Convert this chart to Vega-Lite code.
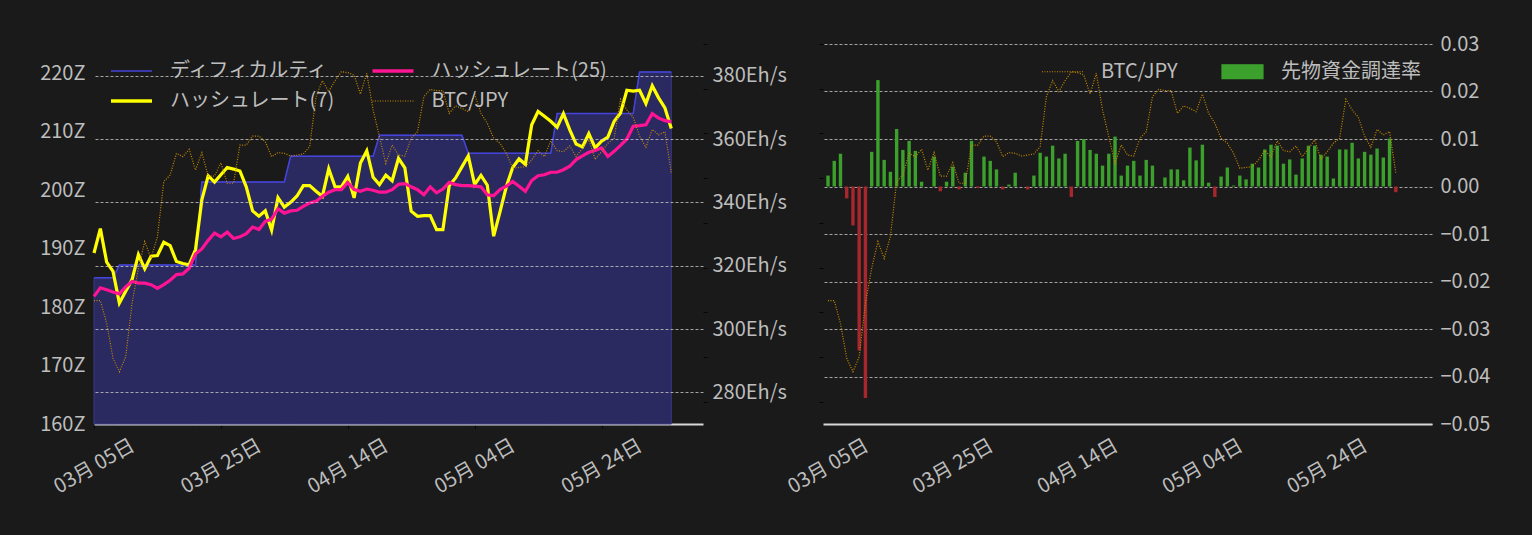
{
  "$schema": "https://vega.github.io/schema/vega-lite/v6.json",
  "background": "#1a1a1a",
  "padding": {"left": 39, "top": 34, "right": 45, "bottom": 45},
  "datasets": {
    "diff": [
      {"date": "2023-03-05", "diff": 185.0},
      {"date": "2023-03-08", "diff": 185.0},
      {"date": "2023-03-09", "diff": 187.2},
      {"date": "2023-03-21", "diff": 187.2},
      {"date": "2023-03-22", "diff": 201.4},
      {"date": "2023-04-04", "diff": 201.4},
      {"date": "2023-04-05", "diff": 205.8},
      {"date": "2023-04-18", "diff": 205.8},
      {"date": "2023-04-19", "diff": 209.4},
      {"date": "2023-05-02", "diff": 209.4},
      {"date": "2023-05-03", "diff": 206.3},
      {"date": "2023-05-16", "diff": 206.3},
      {"date": "2023-05-17", "diff": 213.1},
      {"date": "2023-05-29", "diff": 213.1},
      {"date": "2023-05-30", "diff": 220.2},
      {"date": "2023-06-04", "diff": 220.2}
    ],
    "daily": [
      {"date": "2023-03-05", "hr7": 324.0, "hr25": 310.3, "btc": 3052000, "fr": 0.0023},
      {"date": "2023-03-06", "hr7": 331.7, "hr25": 313.0, "btc": 3052000, "fr": 0.0054},
      {"date": "2023-03-07", "hr7": 321.1, "hr25": 312.4, "btc": 2950000, "fr": 0.0069},
      {"date": "2023-03-08", "hr7": 318.2, "hr25": 311.7, "btc": 2794000, "fr": -0.0025},
      {"date": "2023-03-09", "hr7": 308.2, "hr25": 311.1, "btc": 2734000, "fr": -0.0082},
      {"date": "2023-03-10", "hr7": 311.9, "hr25": 313.3, "btc": 2801000, "fr": -0.0345},
      {"date": "2023-03-11", "hr7": 315.6, "hr25": 315.0, "btc": 3040000, "fr": -0.0445},
      {"date": "2023-03-12", "hr7": 323.5, "hr25": 314.5, "btc": 3197000, "fr": 0.0073},
      {"date": "2023-03-13", "hr7": 319.0, "hr25": 314.5, "btc": 3316000, "fr": 0.0224},
      {"date": "2023-03-14", "hr7": 323.0, "hr25": 314.0, "btc": 3241000, "fr": 0.0056},
      {"date": "2023-03-15", "hr7": 323.2, "hr25": 312.8, "btc": 3338000, "fr": 0.0031},
      {"date": "2023-03-16", "hr7": 327.4, "hr25": 314.0, "btc": 3584000, "fr": 0.0121},
      {"date": "2023-03-17", "hr7": 326.3, "hr25": 315.4, "btc": 3614000, "fr": 0.0077},
      {"date": "2023-03-18", "hr7": 321.3, "hr25": 317.2, "btc": 3711000, "fr": 0.0096},
      {"date": "2023-03-19", "hr7": 320.7, "hr25": 317.4, "btc": 3696000, "fr": 0.0075},
      {"date": "2023-03-20", "hr7": 320.3, "hr25": 319.2, "btc": 3729000, "fr": 0.0010},
      {"date": "2023-03-21", "hr7": 325.1, "hr25": 323.7, "btc": 3636000, "fr": 0.0},
      {"date": "2023-03-22", "hr7": 340.8, "hr25": 325.3, "btc": 3714000, "fr": 0.0063},
      {"date": "2023-03-23", "hr7": 348.4, "hr25": 328.0, "btc": 3609000, "fr": -0.0010},
      {"date": "2023-03-24", "hr7": 346.4, "hr25": 330.3, "btc": 3609000, "fr": 0.0010},
      {"date": "2023-03-25", "hr7": 348.7, "hr25": 329.1, "btc": 3669000, "fr": 0.0042},
      {"date": "2023-03-26", "hr7": 351.0, "hr25": 330.6, "btc": 3577000, "fr": -0.0006},
      {"date": "2023-03-27", "hr7": 350.5, "hr25": 328.6, "btc": 3577000, "fr": 0.0029},
      {"date": "2023-03-28", "hr7": 349.9, "hr25": 329.1, "btc": 3748000, "fr": 0.0096},
      {"date": "2023-03-29", "hr7": 344.9, "hr25": 330.1, "btc": 3748000, "fr": -0.0003},
      {"date": "2023-03-30", "hr7": 337.3, "hr25": 332.2, "btc": 3788000, "fr": 0.0063},
      {"date": "2023-03-31", "hr7": 335.6, "hr25": 331.4, "btc": 3788000, "fr": 0.0054},
      {"date": "2023-04-01", "hr7": 337.3, "hr25": 334.0, "btc": 3763000, "fr": 0.0036},
      {"date": "2023-04-02", "hr7": 331.2, "hr25": 334.7, "btc": 3696000, "fr": -0.0006},
      {"date": "2023-04-03", "hr7": 341.5, "hr25": 338.0, "btc": 3714000, "fr": 0.0004},
      {"date": "2023-04-04", "hr7": 338.5, "hr25": 336.6, "btc": 3711000, "fr": 0.0029},
      {"date": "2023-04-05", "hr7": 340.0, "hr25": 337.3, "btc": 3699000, "fr": 0.0},
      {"date": "2023-04-06", "hr7": 342.0, "hr25": 337.5, "btc": 3703000, "fr": -0.0006},
      {"date": "2023-04-07", "hr7": 345.3, "hr25": 338.7, "btc": 3708000, "fr": 0.0023},
      {"date": "2023-04-08", "hr7": 345.3, "hr25": 339.8, "btc": 3741000, "fr": 0.0071},
      {"date": "2023-04-09", "hr7": 343.5, "hr25": 340.3, "btc": 3964000, "fr": 0.0063},
      {"date": "2023-04-10", "hr7": 341.9, "hr25": 341.9, "btc": 4036000, "fr": 0.0086},
      {"date": "2023-04-11", "hr7": 350.6, "hr25": 343.2, "btc": 3987000, "fr": 0.0059},
      {"date": "2023-04-12", "hr7": 344.9, "hr25": 344.0, "btc": 4036000, "fr": 0.0069},
      {"date": "2023-04-13", "hr7": 344.9, "hr25": 344.0, "btc": 4076000, "fr": -0.0022},
      {"date": "2023-04-14", "hr7": 348.2, "hr25": 346.3, "btc": 4072000, "fr": 0.0096},
      {"date": "2023-04-15", "hr7": 341.4, "hr25": 344.0, "btc": 4061000, "fr": 0.0100},
      {"date": "2023-04-16", "hr7": 352.4, "hr25": 343.5, "btc": 3976000, "fr": 0.0077},
      {"date": "2023-04-17", "hr7": 356.3, "hr25": 344.2, "btc": 4069000, "fr": 0.0069},
      {"date": "2023-04-18", "hr7": 347.9, "hr25": 343.8, "btc": 3905000, "fr": 0.0044},
      {"date": "2023-04-19", "hr7": 345.6, "hr25": 343.2, "btc": 3785000, "fr": 0.0069},
      {"date": "2023-04-20", "hr7": 348.6, "hr25": 343.2, "btc": 3666000, "fr": 0.0105},
      {"date": "2023-04-21", "hr7": 346.8, "hr25": 344.0, "btc": 3748000, "fr": 0.0023},
      {"date": "2023-04-22", "hr7": 353.9, "hr25": 345.7, "btc": 3703000, "fr": 0.0044},
      {"date": "2023-04-23", "hr7": 350.9, "hr25": 345.9, "btc": 3699000, "fr": 0.0054},
      {"date": "2023-04-24", "hr7": 337.2, "hr25": 344.9, "btc": 3778000, "fr": 0.0023},
      {"date": "2023-04-25", "hr7": 335.6, "hr25": 344.0, "btc": 3808000, "fr": 0.0056},
      {"date": "2023-04-26", "hr7": 335.8, "hr25": 342.4, "btc": 3964000, "fr": 0.0044},
      {"date": "2023-04-27", "hr7": 335.8, "hr25": 344.9, "btc": 3997000, "fr": 0.0},
      {"date": "2023-04-28", "hr7": 331.4, "hr25": 343.0, "btc": 3991000, "fr": 0.0019},
      {"date": "2023-04-29", "hr7": 331.4, "hr25": 344.2, "btc": 3991000, "fr": 0.0036},
      {"date": "2023-04-30", "hr7": 345.3, "hr25": 346.3, "btc": 3890000, "fr": 0.0036},
      {"date": "2023-05-01", "hr7": 347.7, "hr25": 345.6, "btc": 3923000, "fr": 0.0013},
      {"date": "2023-05-02", "hr7": 351.2, "hr25": 345.3, "btc": 3912000, "fr": 0.0082},
      {"date": "2023-05-03", "hr7": 354.7, "hr25": 345.3, "btc": 3897000, "fr": 0.0055},
      {"date": "2023-05-04", "hr7": 345.6, "hr25": 345.1, "btc": 3976000, "fr": 0.0088},
      {"date": "2023-05-05", "hr7": 348.5, "hr25": 344.9, "btc": 3890000, "fr": 0.0008},
      {"date": "2023-05-06", "hr7": 345.4, "hr25": 342.4, "btc": 3845000, "fr": -0.0022},
      {"date": "2023-05-07", "hr7": 329.3, "hr25": 342.1, "btc": 3778000, "fr": 0.0021},
      {"date": "2023-05-08", "hr7": 337.0, "hr25": 344.0, "btc": 3756000, "fr": 0.0040},
      {"date": "2023-05-09", "hr7": 345.0, "hr25": 345.1, "btc": 3711000, "fr": 0.0002},
      {"date": "2023-05-10", "hr7": 351.0, "hr25": 346.6, "btc": 3644000, "fr": 0.0023},
      {"date": "2023-05-11", "hr7": 353.7, "hr25": 345.1, "btc": 3648000, "fr": 0.0015},
      {"date": "2023-05-12", "hr7": 352.0, "hr25": 343.5, "btc": 3651000, "fr": 0.0048},
      {"date": "2023-05-13", "hr7": 364.5, "hr25": 346.9, "btc": 3681000, "fr": 0.0040},
      {"date": "2023-05-14", "hr7": 368.7, "hr25": 348.4, "btc": 3723000, "fr": 0.0078},
      {"date": "2023-05-15", "hr7": 367.2, "hr25": 348.7, "btc": 3696000, "fr": 0.0088},
      {"date": "2023-05-16", "hr7": 365.6, "hr25": 349.5, "btc": 3767000, "fr": 0.0086},
      {"date": "2023-05-17", "hr7": 363.7, "hr25": 349.5, "btc": 3723000, "fr": 0.0048},
      {"date": "2023-05-18", "hr7": 368.0, "hr25": 350.3, "btc": 3718000, "fr": 0.0057},
      {"date": "2023-05-19", "hr7": 362.9, "hr25": 351.4, "btc": 3744000, "fr": 0.0025},
      {"date": "2023-05-20", "hr7": 358.4, "hr25": 353.5, "btc": 3696000, "fr": 0.0059},
      {"date": "2023-05-21", "hr7": 357.5, "hr25": 354.7, "btc": 3733000, "fr": 0.0086},
      {"date": "2023-05-22", "hr7": 361.7, "hr25": 355.8, "btc": 3771000, "fr": 0.0086},
      {"date": "2023-05-23", "hr7": 357.2, "hr25": 356.4, "btc": 3684000, "fr": 0.0067},
      {"date": "2023-05-24", "hr7": 359.3, "hr25": 357.2, "btc": 3718000, "fr": 0.0063},
      {"date": "2023-05-25", "hr7": 360.6, "hr25": 354.5, "btc": 3756000, "fr": 0.0017},
      {"date": "2023-05-26", "hr7": 365.6, "hr25": 356.1, "btc": 3778000, "fr": 0.0078},
      {"date": "2023-05-27", "hr7": 368.2, "hr25": 358.0, "btc": 3953000, "fr": 0.0078},
      {"date": "2023-05-28", "hr7": 375.4, "hr25": 360.0, "btc": 3905000, "fr": 0.0092},
      {"date": "2023-05-29", "hr7": 375.1, "hr25": 364.0, "btc": 3872000, "fr": 0.0059},
      {"date": "2023-05-30", "hr7": 375.4, "hr25": 364.2, "btc": 3788000, "fr": 0.0073},
      {"date": "2023-05-31", "hr7": 371.2, "hr25": 364.5, "btc": 3738000, "fr": 0.0067},
      {"date": "2023-06-01", "hr7": 376.8, "hr25": 368.0, "btc": 3818000, "fr": 0.0080},
      {"date": "2023-06-02", "hr7": 373.0, "hr25": 366.6, "btc": 3793000, "fr": 0.0061},
      {"date": "2023-06-03", "hr7": 369.8, "hr25": 365.8, "btc": 3808000, "fr": 0.0101},
      {"date": "2023-06-04", "hr7": 363.3, "hr25": 365.4, "btc": 3624000, "fr": -0.0012}
    ]
  },
  "spacing": 120,
  "bounds": "flush",
  "hconcat": [
    {
      "width": 609,
      "height": 380,
      "encoding": {
        "x": {
          "field": "date",
          "type": "temporal",
          "scale": {
            "type": "utc",
            "nice": false,
            "domain": [
              {"year": 2023, "month": 3, "date": 5, "utc": true},
              {"year": 2023, "month": 6, "date": 9, "utc": true}
            ]
          },
          "axis": {
            "values": [
              {"year": 2023, "month": 3, "date": 5, "utc": true},
              {"year": 2023, "month": 3, "date": 25, "utc": true},
              {"year": 2023, "month": 4, "date": 14, "utc": true},
              {"year": 2023, "month": 5, "date": 4, "utc": true},
              {"year": 2023, "month": 5, "date": 24, "utc": true}
            ],
            "labelExpr": "utcFormat(datum.value, '%m月 %d日')",
            "labelAngle": -30,
            "labelAlign": "center",
            "labelBaseline": "middle",
            "labelPadding": 38,
            "labelOverlap": false,
            "labelFlush": false,
            "labelBound": false,
            "ticks": true,
            "tickSize": 4,
            "tickColor": "#050505",
            "domain": true,
            "domainColor": "#d8d8d8",
            "domainWidth": 2,
            "grid": false
          }
        }
      },
      "layer": [
        {
          "data": {"name": "diff"},
          "layer": [
            {
              "mark": {"type": "area", "color": "#2a2960", "stroke": "#3a3a88", "strokeWidth": 1},
              "encoding": {
                "y": {
                  "field": "diff",
                  "type": "quantitative",
                  "scale": {"domain": [160, 225], "nice": false, "zero": false},
                  "axis": {
                    "orient": "left",
                    "values": [160, 170, 180, 190, 200, 210, 220],
                    "labelExpr": "datum.value + 'Z'",
                    "labelPadding": 9,
                    "grid": false
                  }
                },
                "y2": {"datum": 160}
              }
            },
            {
              "mark": {"type": "line", "strokeWidth": 1.5},
              "encoding": {
                "y": {"field": "diff", "type": "quantitative"},
                "color": {
                  "datum": "ディフィカルティ",
                  "scale": {
                    "domain": ["ディフィカルティ", "ハッシュレート(7)", "ハッシュレート(25)", "BTC/JPY"],
                    "range": ["#4444dd", "#ffff00", "#ff1493", "#c88a00"]
                  },
                  "legend": {
                    "title": null,
                    "orient": "none",
                    "legendX": 27.5,
                    "legendY": 17,
                    "columns": 2,
                    "columnPadding": 29.5,
                    "rowPadding": 10,
                    "padding": 0,
                    "symbolType": "circle",
                    "symbolSize": 1681,
                    "labelOffset": 28.5,
                    "labelLimit": 0,
                    "labelFont": "Noto Sans CJK JP",
                    "labelFontSize": 20,
                    "labelColor": "#bdbdbd",
                    "encode": {
                      "symbols": {
                        "update": {
                          "shape": {"value": "stroke"},
                          "fill": {"value": "transparent"},
                          "strokeWidth": {"signal": "datum.value === 'ディフィカルティ' ? 1.5 : datum.value === 'BTC/JPY' ? 1.2 : 3.5"},
                          "strokeDash": {"signal": "datum.value === 'BTC/JPY' ? [1, 1.5] : []"},
                          "opacity": {"value": 1}
                        }
                      }
                    }
                  }
                }
              }
            }
          ]
        },
        {
          "data": {"name": "daily"},
          "layer": [
            {
              "mark": {"type": "line", "strokeWidth": 3.2},
              "encoding": {
                "y": {
                  "field": "hr7",
                  "type": "quantitative",
                  "scale": {"domain": [270, 390], "nice": false, "zero": false},
                  "axis": {
                    "orient": "right",
                    "values": [280, 300, 320, 340, 360, 380],
                    "labelExpr": "datum.value + 'Eh/s'",
                    "labelPadding": 9,
                    "ticks": false,
                    "grid": true,
                    "gridColor": "#c8c8c8",
                    "gridDash": [3, 2],
                    "gridWidth": 0.8,
                    "zindex": 1
                  }
                },
                "color": {"datum": "ハッシュレート(7)"}
              }
            },
            {
              "mark": {"type": "line", "strokeWidth": 3.2},
              "encoding": {
                "y": {"field": "hr25", "type": "quantitative"},
                "color": {"datum": "ハッシュレート(25)"}
              }
            }
          ]
        },
        {
          "data": {"name": "daily"},
          "mark": {"type": "line", "strokeWidth": 1.2, "strokeDash": [1, 1.5]},
          "encoding": {
            "y": {
              "field": "btc",
              "type": "quantitative",
              "scale": {"domain": [2500000, 4200000], "nice": false, "zero": false},
              "axis": {
                "orient": "right",
                "values": [2600000, 2800000, 3000000, 3200000, 3400000, 3600000, 3800000, 4000000, 4200000],
                "labels": false,
                "ticks": true,
                "tickSize": 4,
                "tickColor": "#050505",
                "domain": false,
                "grid": false
              }
            },
            "color": {"datum": "BTC/JPY"}
          }
        }
      ],
      "resolve": {"scale": {"y": "independent"}}
    },
    {
      "width": 609,
      "height": 380,
      "data": {"name": "daily"},
      "encoding": {
        "x": {
          "field": "date",
          "type": "temporal",
          "scale": {
            "type": "utc",
            "nice": false,
            "domain": [
              {"year": 2023, "month": 3, "date": 5, "utc": true},
              {"year": 2023, "month": 6, "date": 9, "utc": true}
            ]
          },
          "axis": {
            "values": [
              {"year": 2023, "month": 3, "date": 5, "utc": true},
              {"year": 2023, "month": 3, "date": 25, "utc": true},
              {"year": 2023, "month": 4, "date": 14, "utc": true},
              {"year": 2023, "month": 5, "date": 4, "utc": true},
              {"year": 2023, "month": 5, "date": 24, "utc": true}
            ],
            "labelExpr": "utcFormat(datum.value, '%m月 %d日')",
            "labelAngle": -30,
            "labelAlign": "center",
            "labelBaseline": "middle",
            "labelPadding": 42,
            "labelOverlap": false,
            "labelFlush": false,
            "labelBound": false,
            "ticks": false,
            "domain": true,
            "domainColor": "#d8d8d8",
            "domainWidth": 2,
            "grid": false
          }
        }
      },
      "layer": [
        {
          "mark": {"type": "bar", "size": 3.4},
          "encoding": {
            "y": {
              "field": "fr",
              "type": "quantitative",
              "scale": {"domain": [-0.05, 0.03], "nice": false},
              "axis": {
                "orient": "right",
                "values": [-0.05, -0.04, -0.03, -0.02, -0.01, 0, 0.01, 0.02, 0.03],
                "format": ".2f",
                "labelPadding": 8,
                "ticks": false,
                "grid": true,
                "gridColor": "#c8c8c8",
                "gridDash": [3, 2],
                "gridWidth": 0.8
              }
            },
            "color": {
              "condition": {"test": "datum.fr < 0", "value": "#a8262e"},
              "datum": "先物資金調達率",
              "scale": {
                "domain": ["BTC/JPY", "先物資金調達率"],
                "range": ["#c88a00", "#3ca02c"]
              },
              "legend": {
                "title": null,
                "orient": "none",
                "legendX": 218,
                "legendY": 6,
                "columns": 2,
                "columnPadding": 41,
                "padding": 0,
                "symbolSize": 1681,
                "labelOffset": 17,
                "labelLimit": 0,
                "labelFont": "Noto Sans CJK JP",
                "labelFontSize": 20,
                "labelColor": "#bdbdbd",
                "encode": {
                  "symbols": {
                    "update": {
                      "shape": {"signal": "datum.value === 'BTC/JPY' ? 'stroke' : 'M-1,-0.34H1V0.34H-1Z'"},
                      "fill": {"signal": "datum.value === 'BTC/JPY' ? 'transparent' : '#3ca02c'"},
                      "stroke": {"signal": "datum.value === 'BTC/JPY' ? '#c88a00' : 'transparent'"},
                      "strokeWidth": {"value": 1.2},
                      "strokeDash": {"signal": "datum.value === 'BTC/JPY' ? [1, 1.5] : []"},
                      "opacity": {"value": 1},
                      "fillOpacity": {"value": 1}
                    }
                  }
                }
              }
            }
          }
        },
        {
          "mark": {"type": "line", "strokeWidth": 1.2, "strokeDash": [1, 1.5]},
          "encoding": {
            "y": {
              "field": "btc",
              "type": "quantitative",
              "scale": {"domain": [2500000, 4200000], "nice": false, "zero": false},
              "axis": {
                "orient": "left",
                "values": [2600000, 2800000, 3000000, 3200000, 3400000, 3600000, 3800000, 4000000, 4200000],
                "labels": false,
                "ticks": true,
                "tickSize": 4,
                "tickColor": "#050505",
                "domain": false,
                "grid": false
              }
            },
            "color": {"datum": "BTC/JPY"}
          }
        }
      ],
      "resolve": {"scale": {"y": "independent"}}
    }
  ],
  "resolve": {"scale": {"color": "independent"}},
  "config": {
    "view": {"stroke": null},
    "axis": {
      "title": null,
      "labelFont": "Noto Sans CJK JP",
      "labelFontSize": 20,
      "labelColor": "#bdbdbd",
      "domain": false,
      "ticks": false,
      "grid": false
    },
    "legend": {
      "labelFont": "Noto Sans CJK JP",
      "labelFontSize": 20,
      "labelColor": "#bdbdbd"
    }
  }
}
